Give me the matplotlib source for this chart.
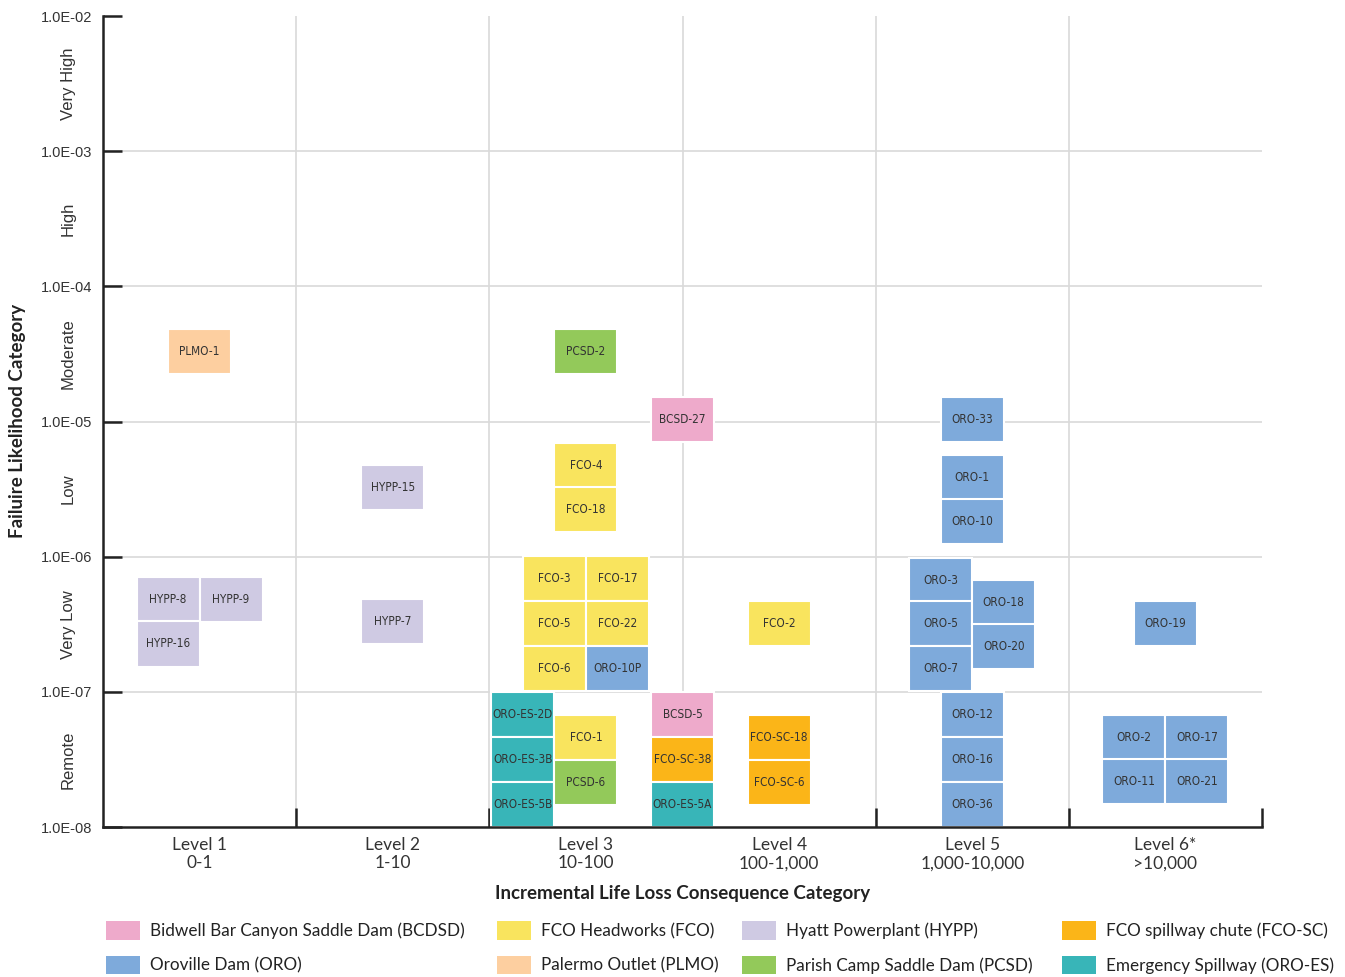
import matplotlib
matplotlib.use("Agg")
import matplotlib.pyplot as plt
from matplotlib import font_manager
from matplotlib.patches import Patch
import numpy as np

# potential failure modes: label, consequence position (level units), likelihood
labels = ["PLMO-1", "PCSD-2", "BCSD-27", "FCO-4", "FCO-18",
          "ORO-33", "ORO-1", "ORO-10", "HYPP-15",
          "HYPP-8", "HYPP-9", "HYPP-16", "HYPP-7",
          "FCO-3", "FCO-17", "FCO-5", "FCO-22", "FCO-6", "ORO-10P",
          "FCO-2", "ORO-3", "ORO-5", "ORO-7", "ORO-18", "ORO-20", "ORO-19",
          "ORO-ES-2D", "ORO-ES-3B", "ORO-ES-5B", "FCO-1", "PCSD-6",
          "BCSD-5", "FCO-SC-38", "ORO-ES-5A", "FCO-SC-18", "FCO-SC-6",
          "ORO-12", "ORO-16", "ORO-36", "ORO-2", "ORO-17", "ORO-11", "ORO-21"]
consequence = [0.50, 2.50, 3.00, 2.50, 2.50,
               4.50, 4.50, 4.50, 1.50,
               0.337, 0.663, 0.337, 1.50,
               2.337, 2.663, 2.337, 2.663, 2.337, 2.663,
               3.50, 4.337, 4.337, 4.337, 4.663, 4.663, 5.50,
               2.174, 2.174, 2.174, 2.50, 2.50,
               3.00, 3.00, 3.00, 3.50, 3.50,
               4.50, 4.50, 4.50, 5.337, 5.663, 5.337, 5.663]
likelihood = [3.27e-5, 3.27e-5, 1.03e-5, 4.76e-6, 2.25e-6,
              1.03e-5, 3.88e-6, 1.81e-6, 3.27e-6,
              4.86e-7, 4.86e-7, 2.26e-7, 3.29e-7,
              6.84e-7, 6.84e-7, 3.18e-7, 3.18e-7, 1.50e-7, 1.50e-7,
              3.18e-7, 6.71e-7, 3.18e-7, 1.48e-7, 4.62e-7, 2.15e-7, 3.23e-7,
              6.75e-8, 3.18e-8, 1.48e-8, 4.63e-8, 2.15e-8,
              6.75e-8, 3.18e-8, 1.48e-8, 4.63e-8, 2.15e-8,
              6.75e-8, 3.18e-8, 1.48e-8, 4.63e-8, 4.63e-8, 2.19e-8, 2.19e-8]

groups = ["BCSD", "ORO", "FCO", "PLMO", "HYPP", "PCSD", "FCO-SC", "ORO-ES"]
group_names = ["Bidwell Bar Canyon Saddle Dam (BCDSD)", "Oroville Dam (ORO)",
               "FCO Headworks (FCO)", "Palermo Outlet (PLMO)",
               "Hyatt Powerplant (HYPP)", "Parish Camp Saddle Dam (PCSD)",
               "FCO spillway chute (FCO-SC)", "Emergency Spillway (ORO-ES)"]
group_colors = ["#eeaacb", "#7eaadb", "#f9e45e", "#fdcfa0",
                "#cfcae3", "#93c95a", "#fbb518", "#38b5b8"]

levels = ["Level 1\n0-1", "Level 2\n1-10", "Level 3\n10-100",
          "Level 4\n100-1,000", "Level 5\n1,000-10,000", "Level 6*\n>10,000"]
decades = [1e-8, 1e-7, 1e-6, 1e-5, 1e-4, 1e-3, 1e-2]
decade_labels = ["1.0E-08", "1.0E-07", "1.0E-06", "1.0E-05",
                 "1.0E-04", "1.0E-03", "1.0E-02"]
categories = ["Remote", "Very Low", "Low", "Moderate", "High", "Very High"]


def group_of(lbl):
    if lbl.startswith("ORO-ES"):
        return "ORO-ES"
    if lbl.startswith("FCO-SC"):
        return "FCO-SC"
    return lbl.rsplit("-", 1)[0]


def narrow_font():
    # pick a condensed face if one is installed
    for fam, stretch in [("Liberation Sans Narrow", "normal"),
                         ("DejaVu Sans", "condensed")]:
        fp = font_manager.FontProperties(family=fam, stretch=stretch)
        try:
            path = font_manager.findfont(fp, fallback_to_default=False)
        except Exception:
            continue
        if (stretch == "normal" and "Narrow" in path) or "Condensed" in path:
            return font_manager.FontProperties(fname=path, size=8.5)
    return font_manager.FontProperties(family="Roboto", size=7.3)


BOX_W = 0.326      # level units
BOX_H = 0.333      # decades
DARK = "#333333"
SANS = ["Lato", "DejaVu Sans"]
ARIAL = ["Liberation Sans", "DejaVu Sans"]
box_font = narrow_font()

fig = plt.figure(figsize=(13.45, 9.77), dpi=100)
ax = fig.add_axes([0.0766, 0.1535, 0.8617, 0.8301])
ax.set_yscale("log")
ax.set_xlim(0, 6)
ax.set_ylim(1e-8, 1e-2)

# grid
for x in range(1, 6):
    ax.axvline(x, color="#d9d9d9", lw=1.2, zorder=0)
for d in decades[1:-1]:
    ax.axhline(d, color="#d9d9d9", lw=1.2, zorder=0)

# boxes
half = 10 ** (BOX_H / 2)
for lbl, x, v in zip(labels, consequence, likelihood):
    col = group_colors[groups.index(group_of(lbl))]
    ax.bar(x, v * half - v / half, bottom=v / half, width=BOX_W,
           color=col, edgecolor="white", linewidth=1.5, zorder=2)
    ax.text(x, v, lbl, ha="center", va="center", fontproperties=box_font,
            color=DARK, zorder=3)

# spines
for s in ["top", "right"]:
    ax.spines[s].set_visible(False)
for s in ["left", "bottom"]:
    ax.spines[s].set_linewidth(1.8)
    ax.spines[s].set_color("#222222")

# y ticks
ax.yaxis.set_minor_locator(matplotlib.ticker.NullLocator())
ax.set_yticks(decades)
ax.set_yticklabels(decade_labels, family=ARIAL, fontsize=10.5, color=DARK)
ax.tick_params(axis="y", direction="in", length=14, width=1.8,
               color="#222222", pad=8)

# x ticks: marks at boundaries, labels at centres
ax.set_xticks(range(1, 7))
ax.set_xticklabels([])
ax.set_xticks(np.arange(6) + 0.5, minor=True)
ax.set_xticklabels(levels, minor=True, family=SANS, fontsize=12.5,
                   color=DARK, linespacing=1.2)
ax.tick_params(axis="x", which="major", direction="in", length=14,
               width=1.8, color="#222222")
ax.tick_params(axis="x", which="minor", length=0, pad=7)

# likelihood category names between decades
ytr = matplotlib.transforms.blended_transform_factory(fig.transFigure, ax.transData)
for i, cat in enumerate(categories):
    ymid = np.sqrt(decades[i] * decades[i + 1])
    ax.text(68 / 1345, ymid, cat, transform=ytr, rotation=90, ha="center",
            va="center", fontsize=12, color=DARK, family=ARIAL)

fig.text(18 / 1345, 1 - 421 / 977, "Failuire Likelihood Category", rotation=90,
         ha="center", va="center", fontsize=13.5, fontweight="bold",
         color="#222222", family=SANS)
fig.text(ax.get_position().x0 + ax.get_position().width / 2, 1 - 893 / 977,
         "Incremental Life Loss Consequence Category", ha="center",
         va="center", fontsize=13.5, fontweight="bold", color="#222222",
         family=SANS)

# legend: one two-row column per block, placed like the original
handles = [Patch(facecolor=c, edgecolor="none") for c in group_colors]
col_x = [106, 497, 742, 1062]
for c, x0 in enumerate(col_x):
    fig.legend(handles[2 * c:2 * c + 2], group_names[2 * c:2 * c + 2],
               loc="upper left", bbox_to_anchor=(x0 / 1345, 1 - 921 / 977),
               frameon=False, prop={"family": SANS, "size": 12.3},
               handlelength=2.0, handleheight=1.3, handletextpad=0.55,
               labelspacing=0.95, borderpad=0, borderaxespad=0,
               labelcolor="#222222")

fig.savefig("out.png", dpi=100)
